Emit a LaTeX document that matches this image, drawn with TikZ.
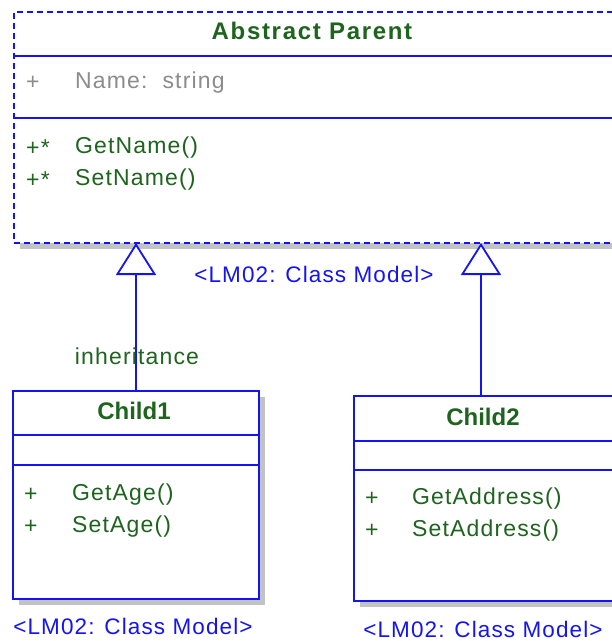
\documentclass[tikz,border=0pt]{standalone}
\usepackage{fontspec}
\setmainfont{Liberation Sans}
\newfontfamily\hdrfont[LetterSpace=7]{Liberation Sans}
\newfontfamily\txtfont[LetterSpace=5]{Liberation Sans}
\usetikzlibrary{arrows.meta}
\definecolor{umlblue}{RGB}{20,20,240}
\definecolor{umlgreen}{RGB}{30,100,30}
\definecolor{umlgray}{RGB}{140,140,140}
\definecolor{shadowgray}{RGB}{195,195,195}
\tikzset{
  classbox/.style={draw=umlblue, line width=1.8pt, rectangle, inner sep=0pt, anchor=north west},
  sepline/.style={draw=umlblue, line width=1.8pt},
  title/.style={text=umlgreen, font=\fontsize{24}{28}\selectfont\bfseries, inner sep=0pt},
  member/.style={text=umlgreen, font=\fontsize{23}{27}\selectfont\txtfont, inner sep=0pt, anchor=west},
  attr/.style={text=umlgray, font=\fontsize{23}{27}\selectfont\txtfont, inner sep=0pt, anchor=west},
  modellabel/.style={text=umlblue, font=\fontsize{22.5}{27}\selectfont\txtfont, inner sep=0pt},
  inh/.style={draw=umlblue, line width=1.8pt, -{Triangle[open, length=32pt, width=40pt, fill=white]}}
}
\begin{document}
\begin{tikzpicture}[x=1pt, y=-1pt]
\useasboundingbox (0,0) rectangle (612,641);
% shadows
\fill[shadowgray] (20,243) rectangle (612,249);
\fill[shadowgray] (259,397) rectangle (265,605);
\fill[shadowgray] (19,599) rectangle (265,605);
\fill[shadowgray] (360,601) rectangle (612,607);
% parent
\node[classbox, dash pattern=on 6pt off 4pt, minimum width=599pt, minimum height=231pt, fill=white] (p) at (13,11) {};
\draw[sepline] (p.west |- 0,56) -- (p.east |- 0,56);
\draw[sepline] (p.west |- 0,118) -- (p.east |- 0,118);
\node[title, font=\fontsize{24}{28}\selectfont\hdrfont\bfseries] (ptitle) at (312,31) {Abstract Parent};
\node[attr] (pa1) at (26,83) {+};
\node[attr] (pa2) at (75,83) {Name:\ \ string};
\node[member] (pm1v) at (26,148) {+*};
\node[member] (pm1) at (75,148) {GetName()};
\node[member] (pm2v) at (26,180) {+*};
\node[member] (pm2) at (75,180) {SetName()};
\node[modellabel] (plabel) at (314,274) {<LM02: Class Model>};
% child1
\node[classbox, minimum width=246pt, minimum height=208pt, fill=white] (c1) at (12,390) {};
\draw[sepline] (c1.west |- 0,435) -- (c1.east |- 0,435);
\draw[sepline] (c1.west |- 0,465) -- (c1.east |- 0,465);
\node[title] (c1title) at (134,411) {Child1};
\node[member] (c1m1v) at (24,495) {+};
\node[member] (c1m1) at (72,495) {GetAge()};
\node[member] (c1m2v) at (24,527) {+};
\node[member] (c1m2) at (72,527) {SetAge()};
\node[modellabel] (c1label) at (133,626) {<LM02: Class Model>};
% child2
\node[classbox, minimum width=259pt, minimum height=205pt, fill=white] (c2) at (353,395) {};
\draw[sepline] (c2.west |- 0,441) -- (c2.east |- 0,441);
\draw[sepline] (c2.west |- 0,470) -- (c2.east |- 0,470);
\node[title] (c2title) at (483,417) {Child2};
\node[member] (c2m1v) at (365,499) {+};
\node[member] (c2m1) at (412,499) {GetAddress()};
\node[member] (c2m2v) at (365,531) {+};
\node[member] (c2m2) at (412,531) {SetAddress()};
\node[modellabel] (c2label) at (483,629) {<LM02: Class Model>};
% inheritance
\coordinate (t1) at (136,243);
\coordinate (t2) at (481,243);
\draw[inh] (c1.north -| t1) -- (t1);
\draw[inh] (c2.north -| t2) -- (t2);
\node[member, anchor=center] (inhlabel) at (137,356) {inheritance};
\end{tikzpicture}
\end{document}
